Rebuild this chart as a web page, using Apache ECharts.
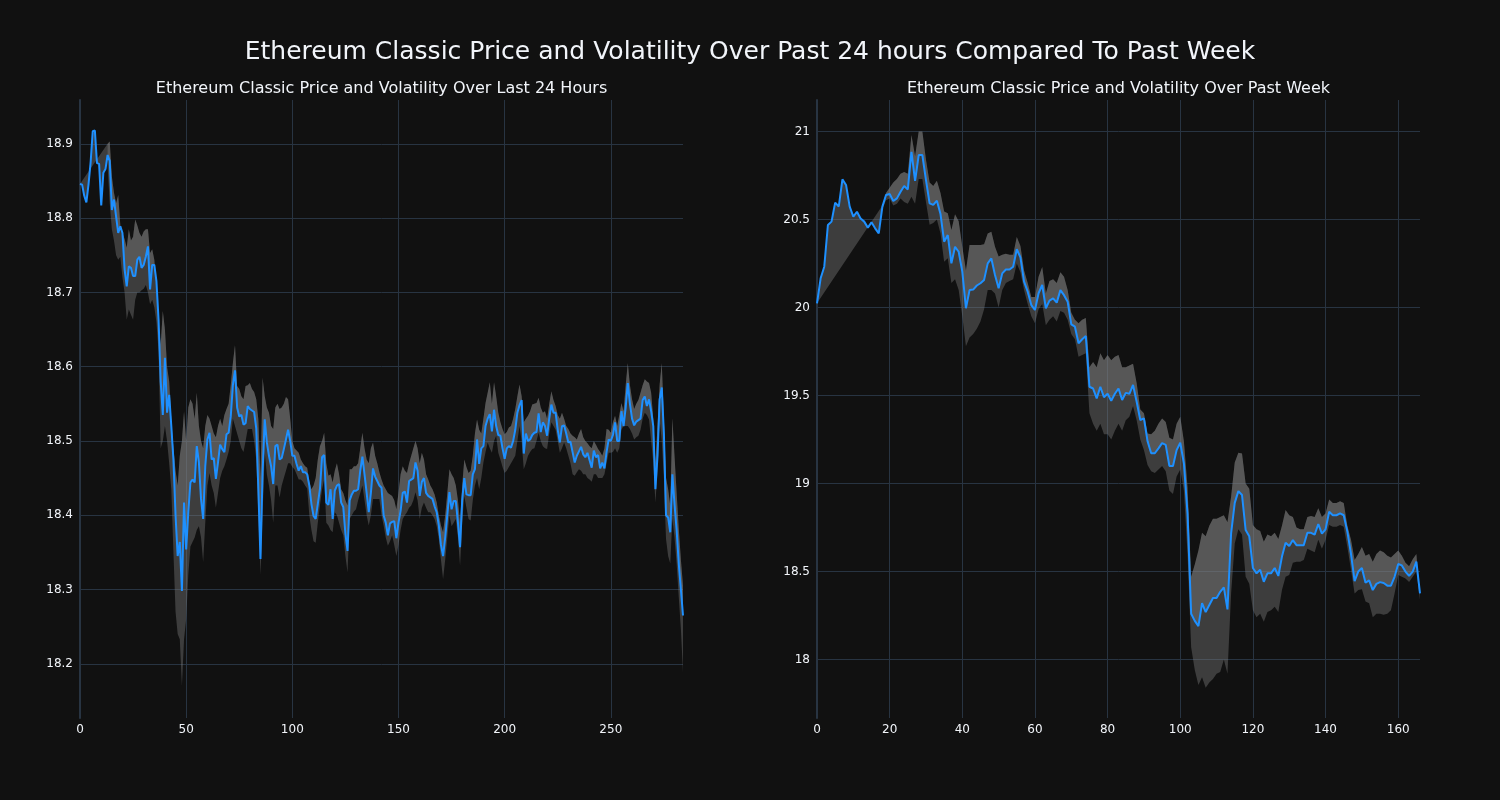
<!DOCTYPE html>
<html>
<head>
<meta charset="utf-8">
<script src="https://cdn.jsdelivr.net/npm/echarts@6/dist/echarts.min.js"></script>
<style>html,body{margin:0;padding:0;background:#111111;}#c{width:1500px;height:800px;}</style>
</head>
<body>
<div id="c"></div>
<script>
const mainTitle = 'Ethereum Classic Price and Volatility Over Past 24 hours Compared To Past Week';
const title24 = 'Ethereum Classic Price and Volatility Over Last 24 Hours';
const titleWeek = 'Ethereum Classic Price and Volatility Over Past Week';

const ticks24X = [0, 50, 100, 150, 200, 250];
const ticks24Y = [18.2, 18.3, 18.4, 18.5, 18.6, 18.7, 18.8, 18.9];
const ticksWeekX = [0, 20, 40, 60, 80, 100, 120, 140, 160];
const ticksWeekY = [18, 18.5, 19, 19.5, 20, 20.5, 21];

const price24 = [
18.846,18.845,18.83,18.821,18.845,18.875,18.917,18.918,18.874,18.873,
18.817,18.861,18.866,18.885,18.877,18.811,18.825,18.802,18.780,18.789,
18.780,18.731,18.708,18.735,18.733,18.722,18.722,18.744,18.748,18.733,
18.737,18.748,18.762,18.704,18.737,18.737,18.715,18.663,18.58,18.535,
18.612,18.538,18.562,18.52,18.475,18.40,18.345,18.364,18.298,18.417,
18.354,18.404,18.444,18.448,18.444,18.493,18.471,18.422,18.395,18.466,
18.502,18.511,18.475,18.477,18.449,18.471,18.495,18.489,18.485,18.509,
18.511,18.533,18.575,18.595,18.545,18.533,18.535,18.522,18.524,18.547,
18.543,18.541,18.539,18.517,18.435,18.341,18.458,18.529,18.498,18.480,
18.466,18.442,18.493,18.495,18.475,18.477,18.489,18.502,18.515,18.500,
18.480,18.480,18.469,18.460,18.466,18.458,18.458,18.455,18.440,18.415,
18.399,18.395,18.415,18.435,18.478,18.481,18.417,18.414,18.435,18.395,
18.433,18.440,18.442,18.417,18.411,18.375,18.352,18.420,18.428,18.433,
18.433,18.435,18.460,18.479,18.455,18.430,18.404,18.430,18.463,18.452,
18.446,18.440,18.437,18.400,18.390,18.373,18.389,18.391,18.392,18.369,
18.390,18.406,18.430,18.432,18.417,18.446,18.448,18.450,18.471,18.460,
18.426,18.445,18.450,18.430,18.426,18.424,18.422,18.412,18.404,18.386,
18.360,18.345,18.370,18.400,18.431,18.408,18.419,18.419,18.390,18.357,
18.420,18.450,18.428,18.427,18.427,18.455,18.462,18.502,18.469,18.490,
18.493,18.520,18.530,18.536,18.513,18.542,18.520,18.508,18.507,18.490,
18.476,18.490,18.493,18.491,18.500,18.515,18.538,18.548,18.555,18.483,
18.510,18.500,18.502,18.508,18.511,18.512,18.537,18.512,18.525,18.520,
18.507,18.530,18.549,18.538,18.538,18.515,18.498,18.520,18.521,18.510,
18.498,18.499,18.485,18.471,18.480,18.486,18.492,18.482,18.478,18.484,
18.474,18.464,18.487,18.478,18.481,18.463,18.471,18.463,18.485,18.502,
18.500,18.508,18.525,18.500,18.500,18.540,18.520,18.545,18.578,18.550,
18.530,18.521,18.526,18.528,18.530,18.555,18.560,18.547,18.556,18.540,
18.520,18.435,18.480,18.556,18.572,18.510,18.400,18.397,18.377,18.455,
18.415,18.380,18.335,18.300,18.265
];

const upper24 = [
null,null,null,null,null,null,null,null,null,null,
null,null,null,18.90,18.903,18.856,18.834,18.82,18.831,18.79,
18.78,18.772,18.76,18.785,18.77,18.775,18.798,18.79,18.78,18.775,
18.782,18.785,18.785,18.753,18.758,18.744,18.704,18.66,18.63,18.675,
18.65,18.60,18.58,18.529,18.49,18.46,18.44,18.48,18.50,18.54,
18.50,18.545,18.556,18.55,18.53,18.565,18.52,18.50,18.49,18.52,
18.535,18.53,18.52,18.51,18.505,18.52,18.53,18.52,18.535,18.543,
18.55,18.575,18.605,18.629,18.574,18.57,18.56,18.556,18.574,18.575,
18.578,18.57,18.566,18.556,18.529,18.45,18.585,18.56,18.545,18.538,
18.52,18.516,18.545,18.55,18.543,18.545,18.55,18.559,18.556,18.53,
18.50,18.49,18.487,18.484,18.475,18.47,18.466,18.464,18.445,18.435,
18.44,18.45,18.475,18.493,18.50,18.511,18.47,18.453,18.455,18.444,
18.46,18.47,18.455,18.435,18.43,18.42,18.413,18.462,18.462,18.466,
18.466,18.47,18.49,18.511,18.49,18.475,18.47,18.49,18.498,18.48,
18.47,18.458,18.448,18.44,18.435,18.43,18.428,18.426,18.42,18.408,
18.43,18.455,18.466,18.46,18.457,18.47,18.48,18.49,18.50,18.49,
18.47,18.484,18.475,18.455,18.448,18.44,18.435,18.428,18.417,18.40,
18.386,18.377,18.40,18.43,18.462,18.455,18.45,18.44,18.42,18.39,
18.44,18.475,18.465,18.457,18.46,18.48,18.51,18.529,18.515,18.51,
18.53,18.551,18.565,18.579,18.55,18.579,18.56,18.538,18.525,18.516,
18.509,18.512,18.518,18.52,18.53,18.543,18.56,18.576,18.56,18.525,
18.53,18.534,18.54,18.549,18.55,18.551,18.558,18.545,18.538,18.54,
18.53,18.55,18.567,18.555,18.547,18.535,18.53,18.538,18.53,18.52,
18.516,18.51,18.507,18.505,18.502,18.51,18.516,18.505,18.50,18.497,
18.493,18.49,18.50,18.495,18.489,18.485,18.48,18.49,18.516,18.515,
18.511,18.525,18.534,18.52,18.535,18.551,18.54,18.575,18.605,18.575,
18.556,18.543,18.55,18.555,18.565,18.575,18.583,18.58,18.578,18.565,
18.53,18.471,18.52,18.576,18.605,18.53,18.45,18.435,18.413,18.531,
18.48,18.43,18.382,18.34,18.305
];

const lower24 = [
null,null,null,null,null,null,null,null,null,null,
null,null,null,18.87,18.82,18.785,18.77,18.75,18.744,18.748,
18.72,18.70,18.663,18.677,18.67,18.663,18.69,18.70,18.70,18.703,
18.705,18.71,18.70,18.684,18.69,18.68,18.66,18.62,18.49,18.50,
18.52,18.50,18.47,18.435,18.35,18.27,18.24,18.233,18.17,18.233,
18.26,18.32,18.358,18.364,18.37,18.38,18.385,18.37,18.337,18.39,
18.44,18.457,18.44,18.43,18.41,18.43,18.45,18.46,18.466,18.475,
18.485,18.50,18.53,18.52,18.51,18.50,18.49,18.485,18.50,18.516,
18.516,18.516,18.50,18.475,18.40,18.32,18.40,18.484,18.455,18.44,
18.42,18.39,18.44,18.44,18.424,18.44,18.45,18.46,18.47,18.47,
18.465,18.462,18.455,18.448,18.448,18.445,18.44,18.436,18.40,18.38,
18.365,18.363,18.39,18.413,18.435,18.448,18.39,18.386,18.38,18.377,
18.404,18.40,18.39,18.38,18.373,18.345,18.323,18.395,18.40,18.405,
18.408,18.42,18.43,18.44,18.42,18.40,18.386,18.40,18.422,18.422,
18.422,18.422,18.40,18.386,18.37,18.359,18.365,18.373,18.36,18.345,
18.36,18.38,18.395,18.40,18.404,18.41,18.413,18.42,18.431,18.42,
18.395,18.41,18.417,18.41,18.404,18.404,18.40,18.395,18.385,18.368,
18.34,18.314,18.34,18.37,18.40,18.385,18.39,18.395,18.37,18.332,
18.39,18.426,18.41,18.395,18.393,18.42,18.44,18.45,18.435,18.45,
18.471,18.485,18.498,18.49,18.484,18.50,18.507,18.484,18.475,18.465,
18.457,18.46,18.465,18.47,18.475,18.48,18.50,18.52,18.50,18.462,
18.47,18.48,18.485,18.489,18.49,18.50,18.511,18.50,18.493,18.49,
18.489,18.51,18.525,18.52,18.515,18.50,18.484,18.49,18.498,18.49,
18.48,18.47,18.455,18.453,18.458,18.462,18.46,18.455,18.455,18.45,
18.448,18.445,18.455,18.455,18.45,18.45,18.45,18.455,18.47,18.484,
18.484,18.485,18.49,18.484,18.49,18.515,18.52,18.52,18.52,18.516,
18.51,18.502,18.505,18.507,18.515,18.53,18.538,18.535,18.529,18.50,
18.471,18.417,18.46,18.529,18.50,18.45,18.368,18.345,18.335,18.395,
18.37,18.335,18.29,18.247,18.188
];

const priceWeek = [
20.024,20.166,20.232,20.469,20.488,20.596,20.574,20.728,20.696,20.573,
20.516,20.544,20.506,20.488,20.454,20.484,20.450,20.421,20.573,20.639,
20.645,20.605,20.620,20.658,20.690,20.671,20.885,20.720,20.866,20.866,
20.724,20.592,20.583,20.607,20.531,20.374,20.412,20.251,20.345,20.317,
20.204,19.996,20.099,20.102,20.125,20.138,20.157,20.251,20.279,20.185,
20.109,20.194,20.216,20.216,20.232,20.331,20.285,20.147,20.090,20.014,
19.986,20.081,20.128,19.996,20.039,20.052,20.028,20.099,20.070,20.033,
19.904,19.891,19.797,19.820,19.838,19.550,19.540,19.484,19.550,19.490,
19.510,19.470,19.510,19.540,19.475,19.515,19.510,19.560,19.465,19.361,
19.370,19.240,19.172,19.172,19.200,19.230,19.220,19.100,19.100,19.190,
19.232,19.115,18.830,18.260,18.220,18.190,18.320,18.270,18.310,18.350,
18.350,18.385,18.410,18.285,18.717,18.890,18.957,18.935,18.736,18.700,
18.520,18.490,18.510,18.442,18.490,18.490,18.520,18.475,18.585,18.664,
18.645,18.679,18.650,18.650,18.650,18.720,18.720,18.710,18.770,18.715,
18.740,18.840,18.820,18.820,18.830,18.820,18.727,18.600,18.446,18.500,
18.520,18.437,18.450,18.395,18.430,18.440,18.435,18.420,18.420,18.470,
18.543,18.535,18.500,18.475,18.500,18.556,18.376
];

const upperWeek = [
null,null,null,null,null,null,null,null,null,null,
null,null,null,null,null,null,null,null,20.58,20.65,
20.68,20.71,20.73,20.76,20.77,20.76,20.98,20.86,21.0,21.0,
20.84,20.71,20.69,20.72,20.65,20.545,20.535,20.44,20.53,20.49,
20.345,20.21,20.355,20.355,20.355,20.355,20.36,20.42,20.43,20.345,
20.29,20.30,20.305,20.30,20.30,20.40,20.35,20.21,20.14,20.06,
20.06,20.175,20.23,20.08,20.15,20.16,20.14,20.20,20.175,20.10,
19.97,19.93,19.91,19.93,19.94,19.66,19.69,19.66,19.74,19.70,
19.73,19.70,19.72,19.73,19.66,19.66,19.67,19.68,19.57,19.42,
19.40,19.285,19.28,19.30,19.34,19.37,19.35,19.26,19.25,19.34,
19.38,19.24,18.98,18.47,18.54,18.62,18.72,18.70,18.76,18.80,
18.80,18.81,18.82,18.78,18.925,19.12,19.175,19.17,19.0,18.97,
18.765,18.74,18.73,18.67,18.71,18.70,18.72,18.685,18.76,18.85,
18.82,18.81,18.75,18.74,18.74,18.81,18.815,18.81,18.86,18.81,
18.83,18.91,18.89,18.89,18.90,18.89,18.76,18.68,18.565,18.60,
18.64,18.59,18.60,18.556,18.60,18.62,18.61,18.59,18.58,18.60,
18.62,18.59,18.55,18.53,18.57,18.60,18.35
];

const lowerWeek = [
null,null,null,null,null,null,null,null,null,null,
null,null,null,null,null,null,null,null,20.56,20.61,
20.62,20.58,20.59,20.62,20.60,20.59,20.63,20.59,20.73,20.73,
20.60,20.47,20.48,20.50,20.42,20.26,20.28,20.14,20.16,20.10,
19.95,19.78,19.83,19.85,19.88,19.92,19.99,20.10,20.10,20.08,
20.0,20.10,20.14,20.15,20.16,20.25,20.20,20.10,20.02,19.95,
19.91,19.99,20.02,19.90,19.93,19.95,19.92,19.98,19.97,19.93,
19.85,19.82,19.72,19.73,19.74,19.40,19.34,19.30,19.34,19.28,
19.28,19.25,19.30,19.34,19.30,19.36,19.38,19.44,19.36,19.25,
19.19,19.105,19.07,19.06,19.08,19.10,19.07,18.96,18.94,19.04,
19.08,18.96,18.60,18.07,17.94,17.855,17.90,17.84,17.87,17.89,
17.92,17.93,18.0,17.92,18.375,18.66,18.74,18.71,18.47,18.43,
18.28,18.24,18.26,18.215,18.27,18.28,18.30,18.27,18.395,18.47,
18.48,18.55,18.555,18.555,18.565,18.63,18.62,18.61,18.68,18.63,
18.68,18.765,18.755,18.755,18.765,18.755,18.64,18.51,18.375,18.395,
18.40,18.33,18.32,18.24,18.26,18.26,18.255,18.26,18.28,18.375,
18.48,18.47,18.46,18.44,18.47,18.50,18.34
];

const FONT = "'DejaVu Sans', Verdana, sans-serif";
const TXT = '#f2f5fa';
const GRIDC = '#283442';
const BAND = 'rgba(128,128,128,0.4)';
const LINE = '#1e90ff';

function bandRenderer(price, upper, lower) {
  return function (params, api) {
    const n = price.length;
    let k = 0;
    while (k < n && upper[k] == null) k++;
    const full = [];
    for (let i = k; i < n; i++) full.push(api.coord([i, upper[i]]));
    for (let i = n - 1; i >= k; i--) full.push(api.coord([i, lower[i]]));
    const top = [];
    for (let i = 0; i < n; i++) top.push(api.coord([i, price[i]]));
    for (let i = n - 1; i >= k; i--) top.push(api.coord([i, upper[i]]));
    return {
      type: 'group',
      children: [
        { type: 'polygon', shape: { points: full }, style: { fill: BAND } },
        { type: 'polygon', shape: { points: top }, style: { fill: BAND } }
      ]
    };
  };
}

function xAxisCfg(idx, max, ticks) {
  return {
    type: 'value', gridIndex: idx, min: 0, max: max,
    axisLine: { show: false },
    axisTick: { show: false, customValues: ticks },
    axisLabel: { customValues: ticks, color: TXT, fontSize: 12, fontFamily: FONT, margin: 6 },
    splitLine: { show: true, lineStyle: { color: GRIDC, width: 1 } }
  };
}
function yAxisCfg(idx, min, max, ticks, fmt) {
  return {
    type: 'value', gridIndex: idx, min: min, max: max,
    axisLine: { show: true, lineStyle: { color: GRIDC, width: 2 } },
    axisTick: { show: false, customValues: ticks },
    axisLabel: { customValues: ticks, color: TXT, fontSize: 12, fontFamily: FONT, margin: 7, formatter: fmt },
    splitLine: { show: true, lineStyle: { color: GRIDC, width: 1 } }
  };
}

const chart = echarts.init(document.getElementById('c'), null, { renderer: 'canvas' });
chart.setOption({
  backgroundColor: '#111111',
  animation: false,
  title: [{
    text: mainTitle, left: 'center', top: 35,
    textStyle: { color: TXT, fontSize: 25, fontWeight: 'normal', fontFamily: FONT }
  }],
  graphic: [
    { type: 'text', x: 381.5, y: 89, style: { text: title24, fill: TXT, fontSize: 16, fontFamily: FONT, textAlign: 'center', textVerticalAlign: 'middle' } },
    { type: 'text', x: 1118.5, y: 89, style: { text: titleWeek, fill: TXT, fontSize: 16, fontFamily: FONT, textAlign: 'center', textVerticalAlign: 'middle' } }
  ],
  grid: [
    { left: 80, top: 100, width: 603, height: 618 },
    { left: 817, top: 100, width: 603, height: 618 }
  ],
  xAxis: [xAxisCfg(0, price24.length - 1, ticks24X), xAxisCfg(1, priceWeek.length - 1, ticksWeekX)],
  yAxis: [
    yAxisCfg(0, 18.127, 18.959, ticks24Y, v => Number(v).toFixed(1)),
    yAxisCfg(1, 17.668, 21.179, ticksWeekY, v => String(Math.round(v * 10) / 10))
  ],
  series: [
    { type: 'custom', xAxisIndex: 0, yAxisIndex: 0, renderItem: bandRenderer(price24, upper24, lower24), data: [[0, price24[0]]], silent: true, z: 1 },
    { type: 'custom', xAxisIndex: 1, yAxisIndex: 1, renderItem: bandRenderer(priceWeek, upperWeek, lowerWeek), data: [[0, priceWeek[0]]], silent: true, z: 1 },
    { type: 'line', xAxisIndex: 0, yAxisIndex: 0, data: price24.map((v, i) => [i, v]), showSymbol: false, lineStyle: { color: LINE, width: 2 }, z: 3 },
    { type: 'line', xAxisIndex: 1, yAxisIndex: 1, data: priceWeek.map((v, i) => [i, v]), showSymbol: false, lineStyle: { color: LINE, width: 2 }, z: 3 }
  ]
});
</script>
</body>
</html>
